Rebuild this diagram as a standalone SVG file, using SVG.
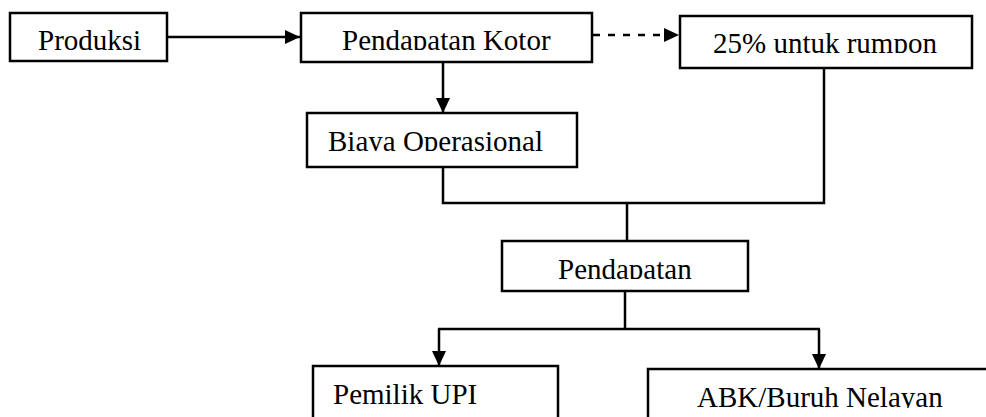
<svg xmlns="http://www.w3.org/2000/svg" width="986" height="417" viewBox="0 0 986 417">
<style>
.box{fill:#fff;stroke:#000;stroke-width:2.5}
.lbl{font-family:"Liberation Serif","Times New Roman","DejaVu Serif",serif;font-size:29px;fill:#000}
.con{fill:none;stroke:#000;stroke-width:2.5}
.dash{stroke-dasharray:7 8}
</style>
<defs>
<marker id="arr" markerUnits="userSpaceOnUse" markerWidth="16" markerHeight="15" refX="15" refY="7.5" orient="auto">
<path d="M0,0.5 L15,7.5 L0,14.5 z" fill="#000"/>
</marker>
<clipPath id="c1"><rect x="10" y="13" width="157" height="37"/></clipPath>
<clipPath id="c2"><rect x="301" y="13" width="291" height="37"/></clipPath>
<clipPath id="c3"><rect x="680" y="16" width="292" height="37"/></clipPath>
<clipPath id="c4"><rect x="307" y="113" width="270" height="38"/></clipPath>
<clipPath id="c5"><rect x="502" y="241" width="246" height="38"/></clipPath>
<clipPath id="c6"><rect x="313" y="366" width="245" height="38"/></clipPath>
<clipPath id="c7"><rect x="648" y="369" width="340" height="39"/></clipPath>
</defs>
<g id="connectors">
<line class="con" x1="167" y1="37" x2="300" y2="37" marker-end="url(#arr)"/>
<line class="con dash" x1="593" y1="35" x2="679" y2="35" marker-end="url(#arr)"/>
<line class="con" x1="443" y1="62" x2="443" y2="113" marker-end="url(#arr)"/>
<polyline class="con" points="443,167 443,203 824,203 824,68"/>
<line class="con" x1="627" y1="203" x2="627" y2="241"/>
<line class="con" x1="625" y1="291" x2="625" y2="329"/>
<line class="con" x1="438" y1="329" x2="820" y2="329"/>
<line class="con" x1="439" y1="329" x2="439" y2="366" marker-end="url(#arr)"/>
<line class="con" x1="819" y1="329" x2="819" y2="369" marker-end="url(#arr)"/>
</g>
<g id="produksi">
<rect class="box" x="10" y="13" width="157" height="48"/>
<text class="lbl" x="38" y="49.5" clip-path="url(#c1)">Produksi</text>
</g>
<g id="pendapatan-kotor">
<rect class="box" x="301" y="13" width="291" height="49"/>
<text class="lbl" x="342" y="49.5" clip-path="url(#c2)">Pendapatan Kotor</text>
</g>
<g id="rumpon">
<rect class="box" x="680" y="16" width="292" height="52"/>
<text class="lbl" x="713" y="52.5" clip-path="url(#c3)">25% untuk rumpon</text>
</g>
<g id="biaya-operasional">
<rect class="box" x="307" y="113" width="270" height="54"/>
<text class="lbl" x="328" y="150.5" clip-path="url(#c4)">Biaya Operasional</text>
</g>
<g id="pendapatan">
<rect class="box" x="502" y="241" width="246" height="50"/>
<text class="lbl" x="558" y="278.5" clip-path="url(#c5)">Pendapatan</text>
</g>
<g id="pemilik-upi">
<rect class="box" x="313" y="366" width="245" height="60"/>
<text class="lbl" x="333" y="403.5" clip-path="url(#c6)">Pemilik UPI</text>
</g>
<g id="abk">
<rect class="box" x="648" y="369" width="350" height="60"/>
<text class="lbl" x="697" y="407" clip-path="url(#c7)">ABK/Buruh Nelayan</text>
</g>
</svg>
